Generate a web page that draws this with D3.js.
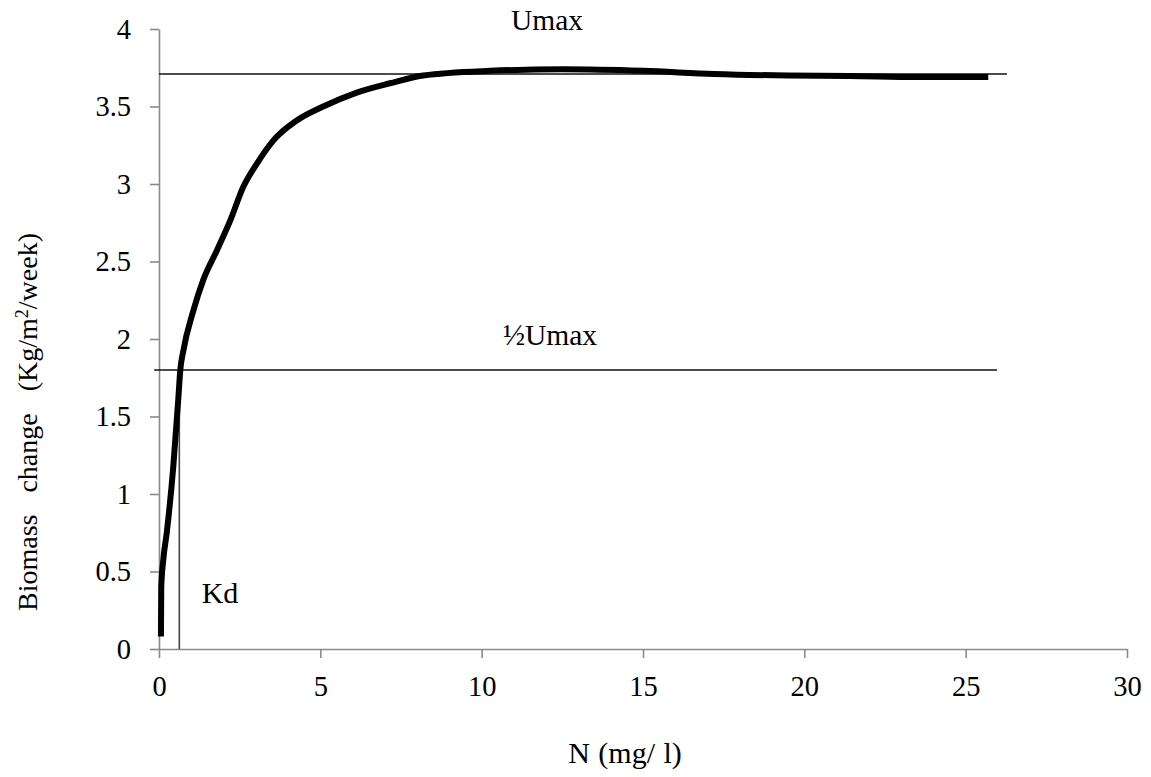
<!DOCTYPE html>
<html>
<head>
<meta charset="utf-8">
<script src="https://cdn.jsdelivr.net/npm/d3@7"></script>
<style>
  html, body { margin: 0; padding: 0; background: #fff; }
  svg { display: block; }
</style>
</head>
<body>
<svg id="chart" width="1151" height="777"></svg>
<script>
// Nitrogen concentration (mg/l) and weekly biomass change (Kg/m²/week)
const nitrogen = [0.06, 0.07, 0.13, 0.24, 0.44, 0.60, 0.66, 0.75, 1.06, 1.37, 1.79, 2.20, 2.61, 3.03, 3.54, 4.27, 5.09, 6.13, 7.16, 8.19, 10.26, 12.5, 15.0, 17.2, 19.5, 21.4, 23.5, 25.7];
const biomass  = [0.08, 0.40, 0.57, 0.75, 1.17, 1.62, 1.80, 1.92, 2.18, 2.38, 2.57, 2.76, 2.98, 3.13, 3.28, 3.41, 3.50, 3.59, 3.65, 3.70, 3.73, 3.74, 3.73, 3.71, 3.70, 3.697, 3.69, 3.69];

// Reference levels
const uMax = 3.71;
const halfUMax = 1.80;
const kd = 0.63;
const uMaxSpan = [0, 26.28];
const halfSpan = [-0.15, 25.97];

const xTicks = [0, 5, 10, 15, 20, 25, 30];
const yTicks = [0, 0.5, 1, 1.5, 2, 2.5, 3, 3.5, 4];
const yTickLabels = ["0", "0.5", "1", "1.5", "2", "2.5", "3", "3.5", "4"];

const svg = d3.select("#chart");
const x = d3.scaleLinear().domain([0, 30]).range([159, 1127]);
const y = d3.scaleLinear().domain([0, 4]).range([649, 29]);

const axisColor = "#8a8a8a";
const serif = "Liberation Serif";
const tickSize = 28.5;

// Y axis
const yAxis = svg.append("g")
  .attr("transform", `translate(${x(0)},0)`)
  .call(d3.axisLeft(y).tickValues(yTicks).tickSize(9).tickSizeOuter(0)
        .tickFormat((d, i) => yTickLabels[i]));
yAxis.attr("font-family", serif).attr("font-size", tickSize);
yAxis.select(".domain").attr("stroke", axisColor).attr("stroke-width", 1.6);
yAxis.selectAll(".tick line").attr("stroke", axisColor).attr("stroke-width", 1.6);
yAxis.selectAll(".tick text")
  .attr("x", -28).attr("dy", "0.33em")
  .attr("font-family", serif).attr("font-size", tickSize).attr("fill", "#000");

// X axis
const xAxis = svg.append("g")
  .attr("transform", `translate(0,${y(0)})`)
  .call(d3.axisBottom(x).tickValues(xTicks).tickSize(9).tickSizeOuter(0)
        .tickFormat(d3.format("d")));
xAxis.attr("font-family", serif).attr("font-size", tickSize);
xAxis.select(".domain").attr("stroke", axisColor).attr("stroke-width", 1.6);
xAxis.selectAll(".tick line").attr("stroke", axisColor).attr("stroke-width", 1.6);
xAxis.selectAll(".tick text")
  .attr("y", 27).attr("dy", "0.71em")
  .attr("font-family", serif).attr("font-size", tickSize).attr("fill", "#000");

// Reference lines
svg.append("line")
  .attr("x1", x(uMaxSpan[0])).attr("x2", x(uMaxSpan[1]))
  .attr("y1", y(uMax)).attr("y2", y(uMax))
  .attr("stroke", "#111").attr("stroke-width", 1.6);

svg.append("line")
  .attr("x1", x(halfSpan[0])).attr("x2", x(halfSpan[1]))
  .attr("y1", y(halfUMax)).attr("y2", y(halfUMax))
  .attr("stroke", "#111").attr("stroke-width", 1.6);

svg.append("line")
  .attr("x1", x(kd)).attr("x2", x(kd))
  .attr("y1", y(0)).attr("y2", y(halfUMax))
  .attr("stroke", "#444").attr("stroke-width", 1.6);

// Growth curve
const pts = nitrogen.map((n, i) => [n, biomass[i]]);
svg.append("path")
  .datum(pts)
  .attr("fill", "none")
  .attr("stroke", "#000")
  .attr("stroke-width", 6)
  .attr("stroke-linejoin", "round")
  .attr("d", d3.line().x(d => x(d[0])).y(d => y(d[1])).curve(d3.curveMonotoneX));

// Annotations
const label = (tx, ty, s, size) => svg.append("text")
  .attr("x", tx).attr("y", ty).attr("text-anchor", "middle")
  .attr("font-family", serif).attr("font-size", size).attr("fill", "#000").text(s);
label(547, 30, "Umax", 29.5);
label(550, 345, "½Umax", 29.5);
label(220, 603, "Kd", 30);

// Axis titles
label(625, 763, "N (mg/ l)", 30).style("word-spacing", "1px");

const yt = svg.append("text")
  .attr("transform", "translate(37,422) rotate(-90)")
  .attr("text-anchor", "middle")
  .attr("font-family", serif)
  .attr("font-size", 28)
  .attr("fill", "#000")
  .style("word-spacing", "15px");
yt.append("tspan").text("Biomass change (Kg/m");
yt.append("tspan").attr("dy", -9).attr("font-size", 18).text("2");
yt.append("tspan").attr("dy", 9).text("/week)");
</script>
</body>
</html>
